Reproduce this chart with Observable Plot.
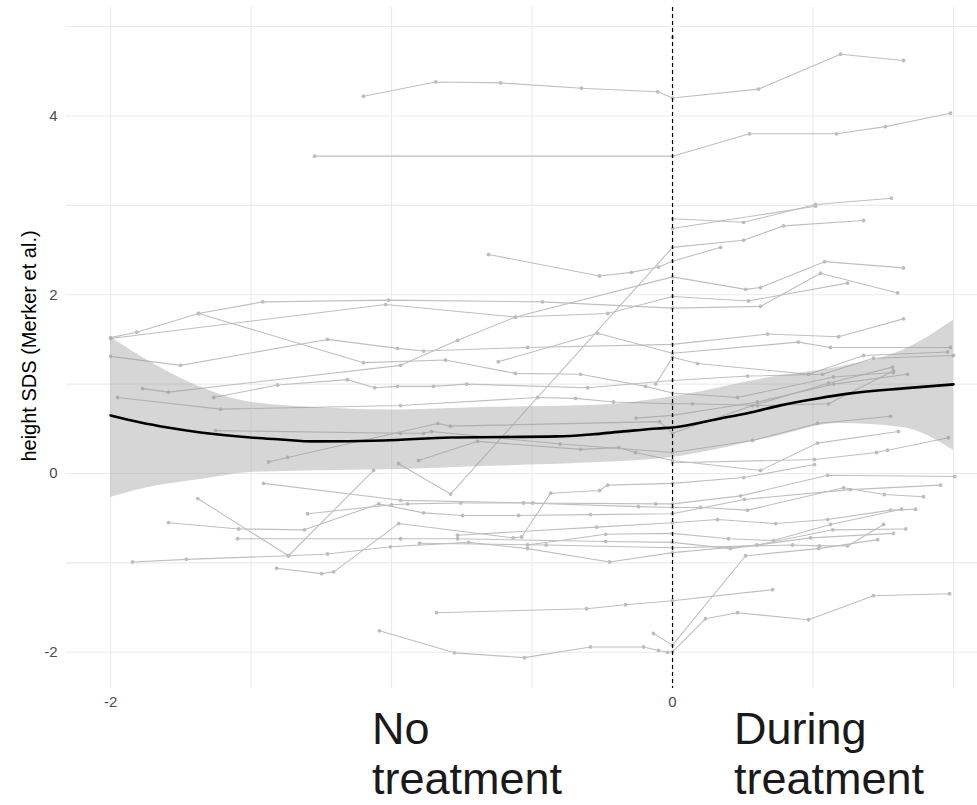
<!DOCTYPE html>
<html>
<head>
<meta charset="utf-8">
<script src="https://cdn.jsdelivr.net/npm/d3@7"></script>
<script src="https://cdn.jsdelivr.net/npm/@observablehq/plot@0.6"></script>
<style>
  html, body { margin: 0; padding: 0; background: #fff; }
  #wrap { position: relative; width: 977px; height: 805px; overflow: hidden; font-family: "Liberation Sans", Arial, sans-serif; }
  .note { position: absolute; font-size: 45px; line-height: 50px; color: #1a1a1a; white-space: nowrap; }
</style>
</head>
<body>
<div id="wrap"></div>
<script>
// ---- data (x: years relative to treatment start, y: height SDS) ----
const trajectories = [
  [[-1.10,4.22],[-0.843,4.38],[-0.612,4.37],[-0.324,4.31],[-0.053,4.27],[0,4.20],[0.306,4.30],[0.598,4.69],[0.822,4.62]],
  [[-1.274,3.55],[0,3.55],[0.274,3.80],[0.584,3.80],[0.758,3.88],[0.989,4.03]],
  [[0,4.88]],
  [[0,2.85],[0.253,2.81],[0.509,3.01],[0.779,3.08]],
  [[0,2.74],[0.509,2.99]],
  [[-0.655,2.45],[-0.26,2.21],[-0.146,2.25],[-0.05,2.31],[0,2.375],[0.171,2.53]],
  [[-0.975,0.11],[-0.79,-0.23],[0,2.53],[0.253,2.61],[0.395,2.77],[0.68,2.83]],
  [[-1.69,-0.28],[-1.367,-0.92],[-1.064,0.034]],
  [[-2.0,1.52],[-1.907,1.58],[-1.687,1.79],[-1.459,1.92],[-1.011,1.94],[-0.463,1.92],[0,1.85],[0.313,1.87],[0.527,2.24],[0.801,2.02]],
  [[-2.0,1.51],[-1.021,1.89],[-0.559,1.75],[-0.231,1.79],[0,1.98],[0.27,1.93],[0.623,2.13]],
  [[-1.886,0.95],[-1.794,0.91],[-0.968,1.21],[-0.765,1.49],[-0.559,1.75],[0,2.20],[0.26,2.06],[0.313,2.08],[0.541,2.37],[0.822,2.30]],
  [[-2.0,1.31],[-1.751,1.21],[-1.228,1.50],[-0.979,1.40],[-0.886,1.37],[-0.516,1.41],[0,1.445],[0.338,1.56],[0.591,1.53],[0.822,1.73]],
  [[-1.687,1.79],[-1.10,1.24],[-0.808,1.27],[-0.559,1.12],[-0.327,1.11],[-0.096,0.975],[0,0.90],[0.231,0.85],[0.573,1.08],[0.786,1.13]],
  [[-1.633,0.85],[-1.406,0.99],[-1.157,1.05],[-1.06,0.96],[-0.979,0.975],[-0.851,0.975],[-0.733,1.0],[-0.302,0.96],[0,1.04],[0.267,1.09],[0.534,1.11],[0.715,1.29],[1.0,1.32]],
  [[-1.975,0.85],[-1.609,0.72],[-0.968,0.76],[-0.48,0.85],[-0.345,0.84],[-0.21,0.80],[0,0.78],[0.071,0.78],[0.302,0.76],[0.555,0.78],[0.786,1.15]],
  [[-1.626,0.48],[-0.968,0.45],[-0.886,0.45],[-0.858,0.47],[-0.40,0.33],[0,0.235],[0.285,0.37],[0.516,0.56],[0.776,0.64]],
  [[-1.438,0.13],[-1.37,0.18],[-0.836,0.56],[-0.79,0.53],[-0.046,0.58],[0,0.45],[0.285,0.76],[0.555,1.01],[0.783,1.19]],
  [[-0.904,0.146],[-0.694,0.36],[-0.327,0.27],[-0.192,0.29],[-0.132,0.235],[0,0.146],[0.313,0.034],[0.516,0.34],[0.804,0.47]],
  [[0,0.12],[0.505,0.157],[0.726,0.235],[0.765,0.26],[0.982,0.40]],
  [[-0.62,1.25],[-0.267,1.57],[0,1.345],[0.448,1.47],[0.562,1.41],[0.989,1.41]],
  [[-0.06,1.0],[0,1.30],[0.089,1.23],[0.484,1.11],[0.68,1.32],[0.979,1.36]],
  [[-0.13,0.62],[0,0.65],[0.302,0.80],[0.573,1.0],[0.836,1.11]],
  [[-1.409,-1.06],[-1.249,-1.12],[-1.206,-1.10],[-0.975,-0.56],[-0.567,-0.72],[-0.537,-0.71],[-0.434,-0.22],[-0.26,-0.19],[-0.231,-0.13],[0,-0.11],[0.253,-0.045],[0.505,0.10]],
  [[-1.456,-0.11],[-0.968,-0.30],[-0.498,-0.33],[-0.06,-0.34],[0,-0.34],[0.242,-0.25],[0.552,-0.02],[1.004,-0.034]],
  [[-1.299,-0.45],[-1.0,-0.35],[-0.943,-0.34],[-0.754,-0.33],[-0.53,-0.33],[-0.121,-0.37],[0,-0.38],[0.1,-0.38],[0.267,-0.41],[0.609,-0.16],[0.754,-0.235],[0.893,-0.26]],
  [[-1.794,-0.55],[-1.544,-0.62],[-1.31,-0.63],[-1.046,-0.34],[-0.886,-0.44],[-0.747,-0.47],[-0.548,-0.47],[-0.292,-0.46],[0,-0.45],[0.256,-0.29],[0.633,-0.18],[0.954,-0.13]],
  [[-0.765,-0.69],[-0.27,-0.60],[0,-0.55],[0.16,-0.515],[0.367,-0.56],[0.552,-0.515],[0.776,-0.41],[0.865,-0.40]],
  [[-0.516,-0.80],[-0.238,-0.68],[0,-0.67],[0.199,-0.73],[0.359,-0.75],[0.562,-0.57],[0.815,-0.40]],
  [[-1.548,-0.73],[-0.968,-0.73],[-0.765,-0.73],[-0.238,-0.76],[0,-0.77],[0.206,-0.84],[0.491,-0.72],[0.786,-0.67]],
  [[-0.90,-0.78],[-0.45,-0.80],[0,-0.83],[0.427,-0.80],[0.523,-0.81],[0.623,-0.81],[0.751,-0.57]],
  [[-1.922,-0.99],[-1.73,-0.96],[-1.367,-0.92],[-1.228,-0.90],[-1.004,-0.82],[-0.726,-0.77],[-0.516,-0.84],[-0.224,-0.99],[0,-0.885],[0.30,-0.80],[0.57,-0.63],[0.83,-0.62]],
  [[-1.043,-1.76],[-0.776,-2.006],[-0.527,-2.06],[-0.292,-1.94],[-0.103,-1.94],[-0.05,-1.98],[-0.018,-2.0],[0,-1.995],[0.117,-1.625],[0.231,-1.557],[0.484,-1.636],[0.715,-1.367],[0.986,-1.345]],
  [[-0.068,-1.79],[0,-1.92],[0.26,-0.92],[0.52,-0.84],[0.73,-0.74]],
  [[-0.84,-1.557],[-0.306,-1.513],[-0.167,-1.468],[0,-1.423],[0.356,-1.30]]
];

const smoothX = [-2.0,-1.893,-1.797,-1.68,-1.502,-1.395,-1.278,-1.028,-0.79,-0.409,-0.292,-0.174,-0.053,0.0,0.171,0.278,0.384,0.516,0.633,0.822,1.0];
const smoothY = [0.65,0.571,0.515,0.459,0.403,0.381,0.359,0.37,0.403,0.415,0.437,0.471,0.504,0.515,0.616,0.683,0.762,0.84,0.896,0.952,0.997];

const ribbonX    = [-2.0,-1.85,-1.68,-1.5,-1.2,-0.97,-0.65,-0.29,0,0.35,0.59,0.82,1.0];
const ribbonLow  = [-0.269,-0.146,-0.067,0.011,0.034,0.045,0.08,0.12,0.18,0.40,0.56,0.515,0.258];
const ribbonHigh = [1.524,1.233,0.964,0.796,0.728,0.71,0.74,0.76,0.86,1.076,1.188,1.378,1.714];

const xTicks = [-2, 0];
const xGrid  = [-2, -1.5, -1, -0.5, 0, 0.5, 1];
const yTicks = [-2, 0, 2, 4];
const yGrid  = [-2, -1, 0, 1, 2, 3, 4, 5];
const yTitle = "height SDS (Merker et al.)";
const leftNote = ["No", "treatment"];
const rightNote = ["During", "treatment"];

// ---- build tables ----
const rows = trajectories.flatMap((pts, i) => pts.map(([x, y]) => ({id: i, x, y})));
const smooth = smoothX.map((x, i) => ({x, y: smoothY[i]}));
const ribbon = ribbonX.map((x, i) => ({x, lo: ribbonLow[i], hi: ribbonHigh[i]}));
const fmt = d => (d < 0 ? "-" : "") + String(Math.abs(d));

const chart = Plot.plot({
  width: 977,
  height: 720,
  marginLeft: 66,
  marginRight: 0,
  marginTop: 7,
  marginBottom: 32,
  style: {fontFamily: "'Liberation Sans', Arial, sans-serif", background: "white", overflow: "visible"},
  x: {domain: [-2.157, 1.0854], label: null},
  y: {domain: [-2.405, 5.213], label: null},
  marks: [
    Plot.ruleX(xGrid, {stroke: "#ebebeb", strokeWidth: 1.1}),
    Plot.ruleY(yGrid, {stroke: "#ebebeb", strokeWidth: 1.1}),
    Plot.line(rows, {x: "x", y: "y", z: "id", stroke: "#bfbfbf", strokeWidth: 1.1}),
    Plot.dot(rows, {x: "x", y: "y", r: 1.9, fill: "#bdbdbd", stroke: "none"}),
    Plot.areaY(ribbon, {x: "x", y1: "lo", y2: "hi", fill: "#999999", fillOpacity: 0.4, curve: "monotone-x"}),
    Plot.line(smooth, {x: "x", y: "y", stroke: "black", strokeWidth: 2.6, curve: "monotone-x"}),
    Plot.ruleX([0], {stroke: "black", strokeWidth: 1.2, strokeDasharray: "4,3"}),
    Plot.axisX({ticks: xTicks, tickFormat: fmt, tickSize: 0, tickPadding: 8, fontSize: 15, color: "#4d4d4d", label: null}),
    Plot.axisY({ticks: yTicks, tickFormat: fmt, tickSize: 0, tickPadding: 9, fontSize: 15, color: "#4d4d4d", label: null}),
    Plot.text([yTitle], {frameAnchor: "left", text: d => d, textAnchor: "middle", lineAnchor: "middle", rotate: -90, dx: -37, dy: -2, fontSize: 20, fill: "black"})
  ]
});

const wrap = document.getElementById("wrap");
wrap.appendChild(chart);

function addNote(lines, left) {
  const div = document.createElement("div");
  div.className = "note";
  div.style.left = left + "px";
  div.style.top = "704px";
  lines.forEach((t) => {
    const line = document.createElement("div");
    line.textContent = t;
    div.appendChild(line);
  });
  wrap.appendChild(div);
}
addNote(leftNote, 372);
addNote(rightNote, 734);
</script>
</body>
</html>
